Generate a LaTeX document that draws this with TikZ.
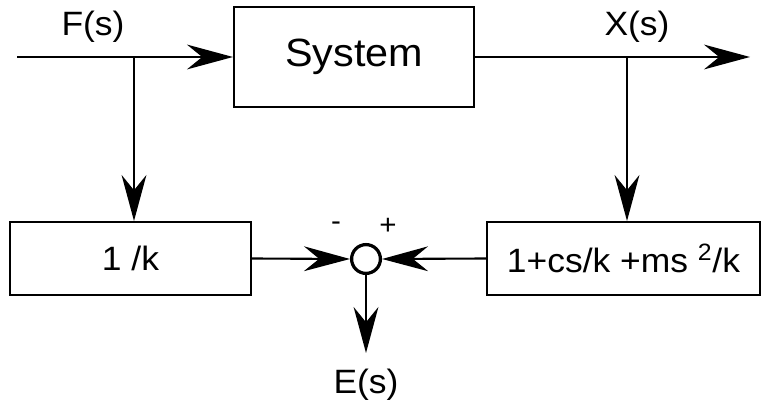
\documentclass[tikz,border=0pt]{standalone}
\usepackage{fontspec}
\setmainfont{Liberation Sans}[FakeStretch=1.05]
\usepackage{tikz}
\usetikzlibrary{arrows.meta,calc}

\tikzset{
  blk/.style={draw,line width=1.4pt,inner sep=0pt},
  sumnode/.style={draw,circle,line width=2.3pt,minimum size=0.72cm,inner sep=0pt},
  sig/.style={line width=1.5pt,-{Stealth[length=1.15cm,width=0.62cm,inset=0.38cm]}},
  lbl/.style={font=\fontsize{24}{28}\selectfont,inner sep=0pt}
}

\begin{document}
\begin{tikzpicture}[x=0.025cm,y=-0.025cm]
    \useasboundingbox (0,0) rectangle (762,406);
    % blocks
    \node[blk,minimum width=6cm,minimum height=2.5cm,font=\fontsize{28}{32}\selectfont] (sys) at (354,57) {System};
    \node[blk,minimum width=6.025cm,minimum height=1.825cm,lbl] (inv) at (130.5,258.5) {1 /k};
    \node[blk,minimum width=6.825cm,minimum height=1.825cm,lbl] (poly) at (623.5,258.5) {1+cs/k +ms \textsuperscript{2}/k};
    \node[sumnode] (sum) at (366,259) {};
    % points on the lines
    \coordinate (in) at (17,57);
    \coordinate (out) at (750,57);
    \coordinate (fb) at (134,57);
    \coordinate (xb) at (627,57);
    \coordinate (eo) at (366,353);
    % signals
    \draw[sig] (in) -- (sys.west);
    \draw[sig] (sys.east) -- (out);
    \draw[sig] (fb) -- (fb |- inv.north);
    \draw[sig] (xb) -- (xb |- poly.north);
    \draw[sig] (inv.east) -- (sum.west);
    \draw[sig] (poly.west) -- (sum.east);
    \draw[sig] (sum.south) -- (eo);
    % labels
    \node[lbl] (flbl) at (93,27) {F(s)};
    \node[lbl] (xlbl) at (637,27) {X(s)};
    \node[lbl] (elbl) at (366,385) {E(s)};
    \node[lbl,font=\fontsize{20}{22}\selectfont] (minus) at (336,226) {-};
    \node[lbl,font=\fontsize{20}{22}\selectfont] (plus) at (388,226) {+};
\end{tikzpicture}
\end{document}
